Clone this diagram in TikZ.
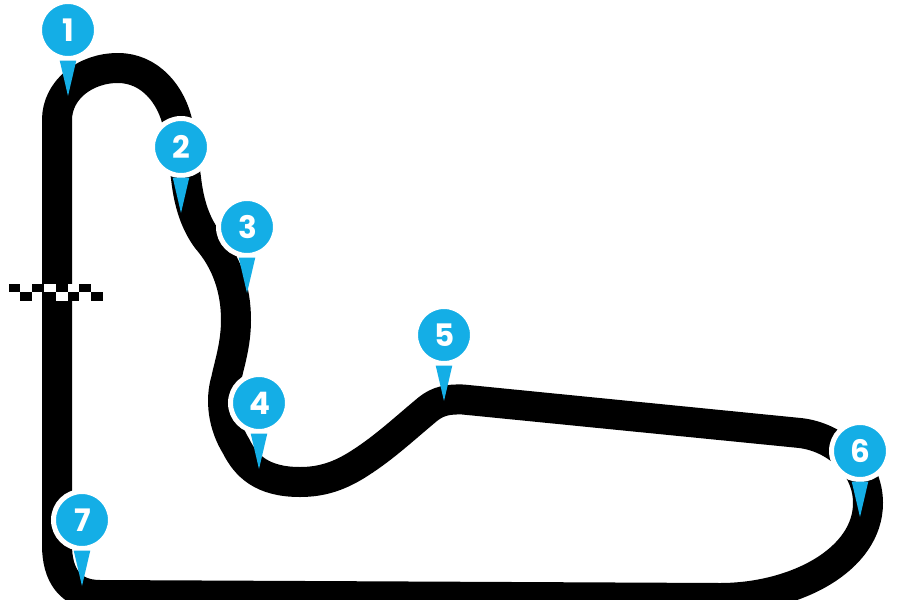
\documentclass[tikz,border=0pt]{standalone}
\usepackage{fontspec}
\usetikzlibrary{calc}
\setmainfont{Poppins}
\definecolor{pinblue}{HTML}{14AEE6}
\tikzset{
  trackline/.style={draw=black,line width=30pt,line join=round},
  checker/.style={fill=black,draw=none},
  checkerw/.style={fill=white,draw=none},
  pinhead/.style={circle,fill=pinblue,draw=white,line width=5pt,minimum size=57pt,inner sep=0pt,text=white,font=\fontsize{31}{31}\selectfont\bfseries},
  pintail/.style={fill=pinblue,draw=none}
}
\begin{document}
\begin{tikzpicture}[x=1pt,y=-1pt]
\useasboundingbox (0,0) rectangle (900,600);
\begin{scope}
\clip (0,0) rectangle (900,600);
\path[trackline] (57,300) -- (57,120)
 .. controls (57,90) and (85,68) .. (118,68)
 .. controls (150,68) and (172,95) .. (178,125)
 .. controls (183,145) and (184,165) .. (186,178)
 .. controls (189,205) and (196,224) .. (207,239)
 .. controls (227,262) and (236,290) .. (236,320)
 .. controls (236,345) and (229,365) .. (226,380)
 .. controls (220,400) and (223,425) .. (236,446)
 .. controls (246,466) and (262,482) .. (300,482)
 .. controls (322,482) and (340,476) .. (360,463)
 .. controls (385,447) and (405,428) .. (428,409)
 .. controls (438,401) and (448,399) .. (463,399.5)
 -- (800,433)
 .. controls (835,437) and (868,465) .. (868,503)
 .. controls (868,560) and (795,598) .. (720,598)
 -- (100,595)
 .. controls (70,595) and (57,575) .. (57,545)
 -- cycle;
\end{scope}
% chequered flag
\foreach \x/\w in {8.5/11.5,32/12,56/11.5,79/12}{\path[checker] (\x,284) rectangle ++(\w,8);}
\foreach \x/\w in {44/12,67.5/11.5}{\path[checkerw] (\x,284) rectangle ++(\w,8);}
\foreach \x/\w in {20/12,44/12,67.5/11.5,91/12}{\path[checker] (\x,292) rectangle ++(\w,9);}
\foreach \x/\w in {56/11.5}{\path[checkerw] (\x,292) rectangle ++(\w,9);}
% pins
\foreach \n/\cx/\cy in {1/68/30,2/181/147,3/247/227,4/259/403,5/444/335,6/860/451,7/82/520}{
  \node[pinhead] (pin\n) at (\cx,\cy) {\hspace{1pt}\n};
  \path[pintail] ($(pin\n.center)+(-8.3,30.5)$) -- ($(pin\n.center)+(8.3,30.5)$) -- ($(pin\n.center)+(0,66)$) -- cycle;
}
\end{tikzpicture}
\end{document}
